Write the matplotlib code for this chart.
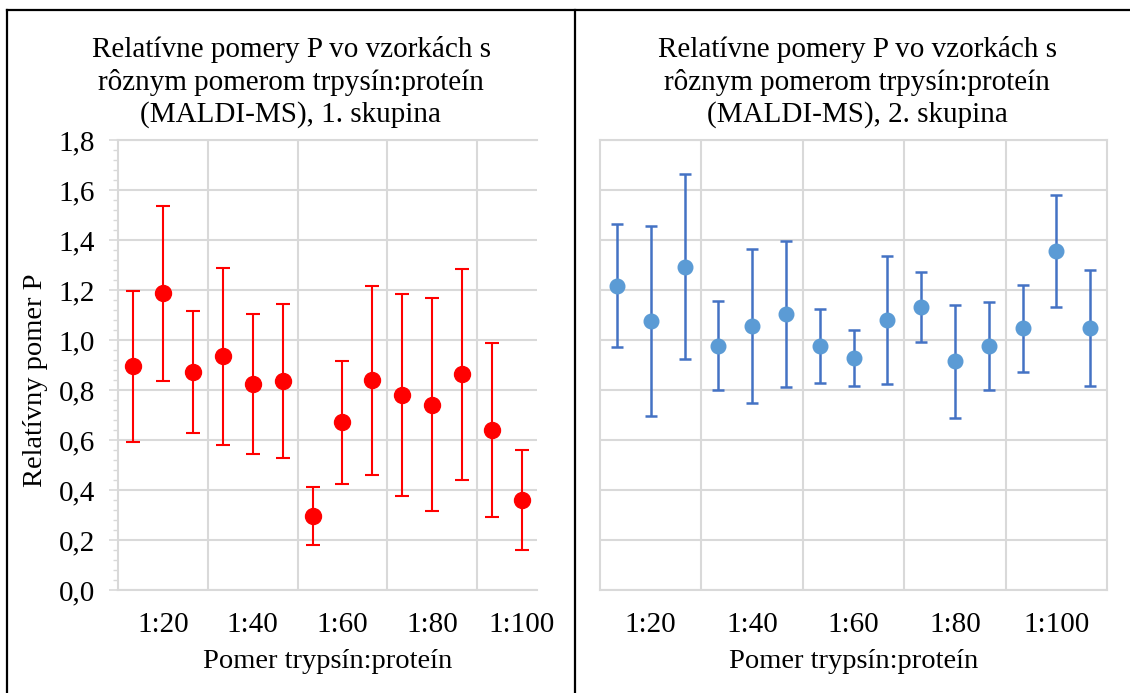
import matplotlib
matplotlib.use("Agg")
from matplotlib import pyplot as plt
from matplotlib.lines import Line2D
from matplotlib.ticker import MultipleLocator

plt.rcParams['font.family'] = ['Liberation Serif', 'DejaVu Serif']

# data
group_labels = ["1:20", "1:40", "1:60", "1:80", "1:100"]
title_1 = "Relatívne pomery P vo vzorkách s\nrôznym pomerom trpysín:proteín\n(MALDI-MS), 1. skupina"
title_2 = "Relatívne pomery P vo vzorkách s\nrôznym pomerom trpysín:proteín\n(MALDI-MS), 2. skupina"
x_title = "Pomer trypsín:proteín"
y_title = "Relatívny pomer P"

vals_1 = [0.895, 1.187, 0.873, 0.935, 0.823, 0.836, 0.297,
          0.671, 0.839, 0.780, 0.741, 0.863, 0.641, 0.361]
errs_1 = [0.302, 0.351, 0.245, 0.354, 0.280, 0.309, 0.116,
          0.245, 0.379, 0.405, 0.426, 0.421, 0.347, 0.201]

vals_2 = [1.217, 1.076, 1.293, 0.977, 1.057, 1.104, 0.977, 0.929,
          1.080, 1.133, 0.915, 0.977, 1.047, 1.356, 1.048]
errs_2 = [0.245, 0.381, 0.370, 0.178, 0.307, 0.290, 0.148, 0.111,
          0.256, 0.139, 0.225, 0.175, 0.175, 0.226, 0.233]

W, H = 1130, 693
grid_col = "#D9D9D9"


def px(x, y):
    return x / W, 1 - y / H


def setup_axis(ax, n, show_y):
    ax.set_xlim(0.5, n + 0.5)
    ax.set_ylim(0, 1.8)
    ax.set_xticks([3.5, 6.5, 9.5, 12.5])
    ax.set_xticks([2, 5, 8, 11, 14], minor=True)
    ax.set_xticklabels(group_labels, minor=True)
    ax.tick_params(axis='x', which='both', length=0, labelbottom=False)
    ax.tick_params(axis='x', which='minor', labelbottom=True, labelsize=21, pad=16)
    ax.yaxis.set_major_locator(MultipleLocator(0.2))
    ax.grid(True, which='major', color=grid_col, linewidth=1.5)
    ax.set_axisbelow(True)
    for s in ax.spines.values():
        s.set_color(grid_col)
        s.set_linewidth(1.5)
    if show_y:
        ax.yaxis.set_minor_locator(MultipleLocator(0.04))
        ax.tick_params(axis='y', which='major', length=6.5, width=1.2, color=grid_col,
                       labelsize=21, pad=10)
        ax.tick_params(axis='y', which='minor', length=3.5, width=1.0, color=grid_col)
        ax.yaxis.set_major_formatter(lambda v, p: f"{v:.1f}".replace(".", ","))
        ax.spines['right'].set_visible(False)
    else:
        ax.tick_params(axis='y', which='both', length=0, labelleft=False)


fig = plt.figure(figsize=(W / 100, H / 100), dpi=100)

ax1 = fig.add_axes([118 / W, 1 - 590 / H, 419 / W, 450 / H])
ax2 = fig.add_axes([600 / W, 1 - 590 / H, 507 / W, 450 / H])

x1 = list(range(1, len(vals_1) + 1))
x2 = list(range(1, len(vals_2) + 1))

ax1.errorbar(x1, vals_1, yerr=errs_1, fmt='o', color='#FF0000', ecolor='#FF0000',
             markersize=11.5, elinewidth=1.5, capsize=4.7, capthick=1.5)
ax2.errorbar(x2, vals_2, yerr=errs_2, fmt='o', color='#5B9BD5', ecolor='#4472C4',
             markersize=10.5, elinewidth=1.8, capsize=4.2, capthick=1.8)

setup_axis(ax1, len(vals_1), True)
setup_axis(ax2, len(vals_2), False)

fig.text(*px(291, 82), title_1, ha='center', va='center', fontsize=21, linespacing=1.28)
fig.text(*px(857, 82), title_2, ha='center', va='center', fontsize=21, linespacing=1.28)
fig.text(*px(328, 662), x_title, ha='center', va='center', fontsize=20.5)
fig.text(*px(854, 662), x_title, ha='center', va='center', fontsize=20.5)
fig.text(*px(36, 380), y_title, ha='center', va='center', fontsize=20.5, rotation=90)

# black frame around the two charts
frame = dict(color='black', linewidth=1.6)
fig.add_artist(Line2D([7 / W, 1], [1 - 10 / H, 1 - 10 / H], **frame))
fig.add_artist(Line2D([7 / W, 7 / W], [0, 1 - 10 / H], **frame))
fig.add_artist(Line2D([575 / W, 575 / W], [0, 1 - 10 / H], **frame))

fig.savefig("out.png", dpi=100)
